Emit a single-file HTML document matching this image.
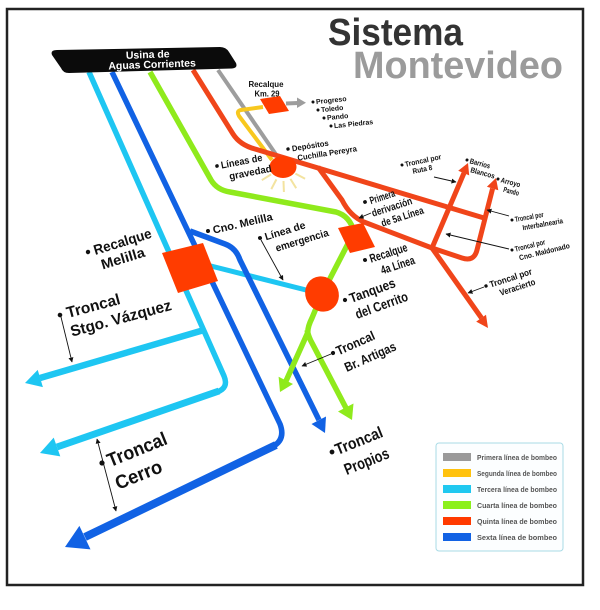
<!DOCTYPE html>
<html><head><meta charset="utf-8"><style>
html,body{margin:0;padding:0;background:#fff;}
svg{display:block}
text{font-family:"Liberation Sans",Arial,sans-serif;font-weight:bold;fill:#111;}
</style></head><body>
<svg width="600" height="610" viewBox="0 0 600 610" xmlns="http://www.w3.org/2000/svg">
<defs>
<marker id="ah" viewBox="0 0 10 10" refX="9" refY="5" markerUnits="userSpaceOnUse" markerWidth="5" markerHeight="5" orient="auto-start-reverse"><path d="M0,0 L10,5 L0,10 z" fill="#111"/></marker>
</defs>
<rect width="600" height="610" fill="#fff"/>
<rect x="7" y="9" width="576" height="576" fill="none" stroke="#222" stroke-width="2.5"/>

<!-- title -->
<text x="328" y="45" font-size="38" style="fill:#333" textLength="135" lengthAdjust="spacingAndGlyphs">Sistema</text>
<text x="353" y="78" font-size="38" style="fill:#9b9b9b" textLength="210" lengthAdjust="spacingAndGlyphs">Montevideo</text>

<!-- rays -->
<g stroke="#f3e3a0" stroke-width="2" fill="none">
<line x1="295.4" y1="173.6" x2="305.1" y2="178.7"/>
<line x1="290.4" y1="178.9" x2="296.2" y2="188.2"/>
<line x1="283.5" y1="181" x2="283.9" y2="192"/>
<line x1="276.4" y1="179.4" x2="271.3" y2="189.1"/>
<line x1="271.1" y1="174.4" x2="261.8" y2="180.2"/>
</g>

<g fill="none" stroke-linejoin="round">
 <!-- grey -->
 <path d="M218,70 L277,156" stroke="#9d9d9d" stroke-width="4"/>
 <path d="M286,103.5 L298,103" stroke="#9d9d9d" stroke-width="4"/>
 <!-- yellow -->
 <path d="M263,107 L241,110 Q236,111 239,116 L272,160" stroke="#f8c81e" stroke-width="4"/>
 <!-- cyan -->
 <path d="M89,72 L224,376 Q229,388 217,392" stroke="#1ec6f2" stroke-width="5.5"/>
 <path d="M219,391 L57,447" stroke="#1ec6f2" stroke-width="7"/>
 <path d="M204,330 L40,378" stroke="#1ec6f2" stroke-width="6.5"/>
 <path d="M195,262 L318,293" stroke="#1ec6f2" stroke-width="5"/>
 <!-- dark blue -->
 <path d="M112,72 L280,424 Q286,440 272,447" stroke="#1162e4" stroke-width="5.5"/>
 <path d="M276,445 L85,537" stroke="#1162e4" stroke-width="8"/>
 <path d="M190,231 L225,244 Q236,248 240,260 L319,420" stroke="#1162e4" stroke-width="5.5"/>
 <!-- green -->
 <path d="M150,72 L211,180 Q217,190 230,192 L336,212 Q350,216 354,232 L322,294 L312,318 Q307,328 308,334" stroke="#8fea1c" stroke-width="5.5"/>
 <path d="M308,332 L286,381" stroke="#8fea1c" stroke-width="5.5"/>
 <path d="M307,330 Q309,338 312,343 L346,408" stroke="#8fea1c" stroke-width="5.5"/>
 <!-- red -->
 <path d="M193,70 L233,134 Q240,145 255,149 L484,218" stroke="#f0451a" stroke-width="5"/>
 <path d="M318,167 L342,200 Q350,216 364,222 L432,248" stroke="#f0451a" stroke-width="5"/>
 <path d="M432,248 L464,173" stroke="#f0451a" stroke-width="5"/>
 <path d="M432,248 L462,258 Q474,262 477,250 L492.6,188.5" stroke="#f0451a" stroke-width="5"/>
 <path d="M432,248 L481.5,318" stroke="#f0451a" stroke-width="5"/>
</g>

<!-- arrowheads -->
<polygon points="306,102.8 297,97.5 297,108" fill="#9d9d9d"/>
<polygon points="25,383 42.9,387.1 37.7,369.9" fill="#1ec6f2"/>
<polygon points="40,453 60.3,456.4 53.7,437.6" fill="#1ec6f2"/>
<polygon points="65,547 90.5,549.4 79.4,525.9" fill="#1162e4"/>
<polygon points="325,433 326,416.5 311.5,424" fill="#1162e4"/>
<polygon points="280,392 293,384 278.6,376.8" fill="#8fea1c"/>
<polygon points="352,420 353.5,403.5 338,411.5" fill="#8fea1c"/>
<polygon points="468,163 469.2,175.4 458.2,170.8" fill="#f0451a"/>
<polygon points="496,178 498.3,190.3 486.9,186.7" fill="#f0451a"/>
<polygon points="488,328 486,314.8 476.2,321.6" fill="#f0451a"/>

<!-- nodes -->
<polygon points="260,99 280,96 289,111 269,114" fill="#ff3c00"/>
<polygon points="162,253 203,243 218,281 178,293" fill="#ff3c00"/>
<polygon points="338,228 363,223 375,247 350,253" fill="#ff3c00"/>
<ellipse cx="283" cy="167" rx="13.5" ry="11" fill="#ff3c00"/>
<ellipse cx="322" cy="294" rx="18" ry="16.5" transform="rotate(60 322 294)" fill="#ff3c00"/>

<!-- banner -->
<path d="M57,50 L220,47 Q226,47 229,52 L236,63 Q238,68 232,68.5 L69,73 Q63,73 61,68 L52,55 Q50,50 57,50 Z" fill="#0b0b0b"/>
<g transform="rotate(-2 150 62)">
<text x="148" y="58" font-size="10.5" text-anchor="middle" style="fill:#fff">Usina de</text>
<text x="152" y="68" font-size="10.5" text-anchor="middle" style="fill:#fff">Aguas Corrientes</text>
</g>

<!-- thin pointer arrows -->
<g stroke="#111" stroke-width="0.9" fill="none">
<line x1="434" y1="177" x2="456" y2="182" marker-end="url(#ah)"/>
<line x1="371" y1="213" x2="359" y2="218" marker-end="url(#ah)"/>
<line x1="261" y1="240" x2="283" y2="280" marker-end="url(#ah)"/>
<line x1="509" y1="216" x2="487" y2="210" marker-end="url(#ah)"/>
<line x1="509" y1="249" x2="446" y2="234" marker-end="url(#ah)"/>
<line x1="484" y1="287" x2="468" y2="293" marker-end="url(#ah)"/>
<line x1="331" y1="354" x2="302" y2="366" marker-end="url(#ah)"/>
<line x1="61" y1="317" x2="72" y2="362" marker-end="url(#ah)"/>
<line x1="97" y1="439" x2="116" y2="511" marker-start="url(#ah)" marker-end="url(#ah)"/>
</g>

<!-- labels -->
<text x="266" y="87" font-size="8" text-anchor="middle" textLength="35" lengthAdjust="spacingAndGlyphs">Recalque</text>
<text x="267" y="96.5" font-size="8" text-anchor="middle" textLength="25" lengthAdjust="spacingAndGlyphs">Km. 29</text>

<g transform="translate(313,102) rotate(-6)"><circle r="1.5" fill="#111"/><text x="3" y="2.5" font-size="7">Progreso</text></g>
<g transform="translate(318,110) rotate(-6)"><circle r="1.5" fill="#111"/><text x="3" y="2.5" font-size="7">Toledo</text></g>
<g transform="translate(324,118) rotate(-6)"><circle r="1.5" fill="#111"/><text x="3" y="2.5" font-size="7">Pando</text></g>
<g transform="translate(331,126) rotate(-6)"><circle r="1.5" fill="#111"/><text x="3" y="2.5" font-size="7">Las Piedras</text></g>

<g transform="translate(288,149) rotate(-9)"><circle r="1.7" fill="#111"/>
<text x="4" y="3" font-size="8" textLength="37" lengthAdjust="spacingAndGlyphs">Depósitos</text>
<text x="8" y="13" font-size="8" textLength="60" lengthAdjust="spacingAndGlyphs">Cuchilla Pereyra</text></g>

<g transform="translate(217,166) rotate(-11)"><circle r="1.8" fill="#111"/>
<text x="4" y="3.5" font-size="10" textLength="42" lengthAdjust="spacingAndGlyphs">Líneas de</text>
<text x="10" y="16" font-size="10" textLength="43" lengthAdjust="spacingAndGlyphs">gravedad</text></g>

<g transform="translate(208,231) rotate(-13)"><circle r="2" fill="#111"/>
<text x="5" y="4" font-size="11" textLength="61" lengthAdjust="spacingAndGlyphs">Cno. Melilla</text></g>

<g transform="translate(260,238) rotate(-17)"><circle r="2" fill="#111"/>
<text x="5" y="4" font-size="10.5" textLength="42" lengthAdjust="spacingAndGlyphs">Línea de</text>
<text x="12" y="18" font-size="10.5" textLength="55" lengthAdjust="spacingAndGlyphs">emergencia</text></g>

<g transform="translate(88,252) rotate(-17)"><circle r="2.2" fill="#111"/>
<text x="6" y="5" font-size="14" textLength="60" lengthAdjust="spacingAndGlyphs">Recalque</text>
<text x="9" y="21" font-size="14" textLength="45" lengthAdjust="spacingAndGlyphs">Melilla</text></g>

<g transform="translate(60,315) rotate(-15)"><circle r="2.3" fill="#111"/>
<text x="7" y="5" font-size="15.5" textLength="55" lengthAdjust="spacingAndGlyphs">Troncal</text>
<text x="6" y="24" font-size="15.5" textLength="104" lengthAdjust="spacingAndGlyphs">Stgo. Vázquez</text></g>

<g transform="translate(102,463) rotate(-22)"><circle r="2.6" fill="#111"/>
<text x="6" y="7" font-size="19" textLength="63" lengthAdjust="spacingAndGlyphs">Troncal</text>
<text x="5" y="31" font-size="19" textLength="49" lengthAdjust="spacingAndGlyphs">Cerro</text></g>

<g transform="translate(332,452) rotate(-22)"><circle r="2.4" fill="#111"/>
<text x="4" y="5" font-size="16" textLength="50" lengthAdjust="spacingAndGlyphs">Troncal</text>
<text x="5" y="27" font-size="16" textLength="47" lengthAdjust="spacingAndGlyphs">Propios</text></g>

<g transform="translate(333,353) rotate(-24)"><circle r="2.1" fill="#111"/>
<text x="4" y="4.5" font-size="13" textLength="41" lengthAdjust="spacingAndGlyphs">Troncal</text>
<text x="5" y="23" font-size="13" textLength="55" lengthAdjust="spacingAndGlyphs">Br. Artigas</text></g>

<g transform="translate(345,300) rotate(-20)"><circle r="2.1" fill="#111"/>
<text x="5" y="5" font-size="13.5" textLength="48" lengthAdjust="spacingAndGlyphs">Tanques</text>
<text x="5" y="22" font-size="13.5" textLength="55" lengthAdjust="spacingAndGlyphs">del Cerrito</text></g>

<g transform="translate(365,260) rotate(-18)"><circle r="2" fill="#111"/>
<text x="5" y="4.5" font-size="12" textLength="39" lengthAdjust="spacingAndGlyphs">Recalque</text>
<text x="12" y="19" font-size="12" textLength="35" lengthAdjust="spacingAndGlyphs">4a Línea</text></g>

<g transform="translate(365,202) rotate(-18)"><circle r="1.9" fill="#111"/>
<text x="5" y="4" font-size="10.5" textLength="26" lengthAdjust="spacingAndGlyphs">Primera</text>
<text x="3" y="16.5" font-size="10.5" textLength="42" lengthAdjust="spacingAndGlyphs">derivación</text>
<text x="9" y="29" font-size="10.5" textLength="44" lengthAdjust="spacingAndGlyphs">de 5a Línea</text></g>

<g transform="translate(402,165) rotate(-12)"><circle r="1.5" fill="#111"/>
<text x="3" y="2.5" font-size="7.5" textLength="37" lengthAdjust="spacingAndGlyphs">Troncal por</text>
<text x="9" y="11" font-size="7.5" textLength="20" lengthAdjust="spacingAndGlyphs">Ruta 8</text></g>

<g transform="translate(467,160) rotate(15)"><circle r="1.5" fill="#111"/>
<text x="3" y="2.5" font-size="7.5" textLength="21" lengthAdjust="spacingAndGlyphs">Barrios</text>
<text x="6" y="11" font-size="7.5" textLength="25" lengthAdjust="spacingAndGlyphs">Blancos</text></g>

<g transform="translate(498,179) rotate(15)"><circle r="1.5" fill="#111"/>
<text x="3" y="2.5" font-size="7.5" textLength="20" lengthAdjust="spacingAndGlyphs">Arroyo</text>
<text x="8" y="11" font-size="7.5" textLength="16" lengthAdjust="spacingAndGlyphs">Pando</text></g>

<g transform="translate(512,220) rotate(-10)"><circle r="1.5" fill="#111"/>
<text x="3" y="2.5" font-size="7.5" textLength="29" lengthAdjust="spacingAndGlyphs">Troncal por</text>
<text x="9" y="12" font-size="7.5" textLength="41" lengthAdjust="spacingAndGlyphs">Interbalnearia</text></g>

<g transform="translate(512,250) rotate(-14)"><circle r="1.5" fill="#111"/>
<text x="3" y="2.5" font-size="7.5" textLength="31" lengthAdjust="spacingAndGlyphs">Troncal por</text>
<text x="5" y="12" font-size="7.5" textLength="52" lengthAdjust="spacingAndGlyphs">Cno. Maldonado</text></g>

<g transform="translate(486,286) rotate(-18)"><circle r="1.7" fill="#111"/>
<text x="4" y="3" font-size="9" textLength="44" lengthAdjust="spacingAndGlyphs">Troncal por</text>
<text x="11" y="14" font-size="9" textLength="37" lengthAdjust="spacingAndGlyphs">Veracierto</text></g>

<!-- legend -->
<rect x="436" y="443" width="127" height="108" rx="3" fill="#fcfeff" stroke="#a9dbe6" stroke-width="1"/>
<rect x="443" y="453" width="28" height="8" fill="#9a9a9a"/>
<rect x="443" y="469" width="28" height="8" fill="#ffc20e"/>
<rect x="443" y="485" width="28" height="8" fill="#1fc8f0"/>
<rect x="443" y="501" width="28" height="8" fill="#8cf01c"/>
<rect x="443" y="517" width="28" height="8" fill="#ff3a00"/>
<rect x="443" y="533" width="28" height="8" fill="#1162e4"/>
<g font-size="7" style="fill:#555">
<text x="477" y="460" font-size="7" textLength="80" lengthAdjust="spacingAndGlyphs" style="fill:#555">Primera línea de bombeo</text>
<text x="477" y="476" font-size="7" textLength="80" lengthAdjust="spacingAndGlyphs" style="fill:#555">Segunda línea de bombeo</text>
<text x="477" y="492" font-size="7" textLength="80" lengthAdjust="spacingAndGlyphs" style="fill:#555">Tercera línea de bombeo</text>
<text x="477" y="508" font-size="7" textLength="80" lengthAdjust="spacingAndGlyphs" style="fill:#555">Cuarta línea de bombeo</text>
<text x="477" y="524" font-size="7" textLength="80" lengthAdjust="spacingAndGlyphs" style="fill:#555">Quinta línea de bombeo</text>
<text x="477" y="540" font-size="7" textLength="80" lengthAdjust="spacingAndGlyphs" style="fill:#555">Sexta línea de bombeo</text>
</g>
</svg>
</body></html>
